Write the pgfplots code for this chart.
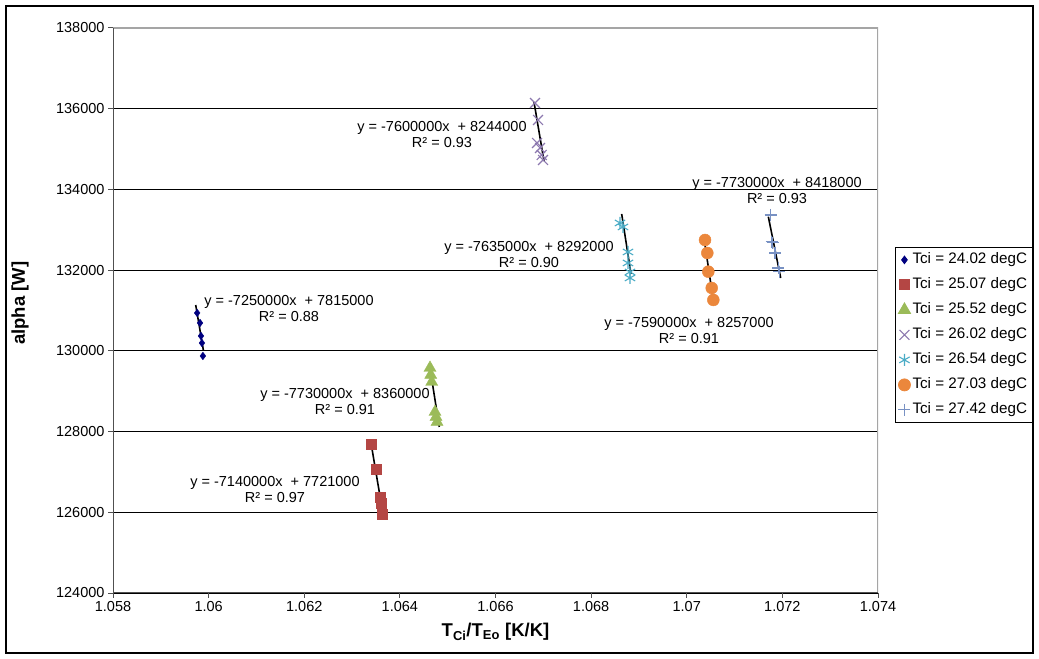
\documentclass[border=0pt]{standalone}
\usepackage{fontspec}
\setmainfont{Liberation Sans}
\usepackage{pgfplots}
\pgfplotsset{compat=1.18}

\definecolor{sNavy}{RGB}{0,0,128}
\definecolor{sRed}{RGB}{180,70,68}
\definecolor{sGreen}{RGB}{155,187,89}
\definecolor{sPurple}{RGB}{140,120,175}
\definecolor{sAqua}{RGB}{75,172,198}
\definecolor{sOrange}{RGB}{235,135,60}
\definecolor{sSteel}{RGB}{120,145,195}
\definecolor{axisDark}{RGB}{80,80,80}
\definecolor{frameGray}{RGB}{165,165,165}

\newcommand{\lblfont}{\fontsize{14.5bp}{16bp}\selectfont}
\newcommand{\legfont}{\fontsize{15.2bp}{17bp}\selectfont}
\newcommand{\titlefont}{\fontsize{18.5bp}{20bp}\selectfont}

\pgfplotsset{
  mk/.style={only marks,
    legend image code/.code={\draw[mark repeat=2,mark phase=2,##1] plot coordinates {(0cm,0cm) (0.12cm,0cm) (0.24cm,0cm)};}},
  trend/.style={black, line width=1.6bp, no marks, forget plot},
}

\begin{document}
\begin{tikzpicture}
\useasboundingbox (0,0) rectangle (1039bp,659bp);
\draw[black, line width=2.5bp] (6bp,6bp) rectangle (1033bp,653bp);
\begin{axis}[
  at={(113bp,66bp)}, anchor=south west,
  scale only axis, width=765bp, height=565bp,
  xmin=1.058, xmax=1.074, ymin=124000, ymax=138000,
  xtick distance=0.002, ytick distance=2000,
  scaled x ticks=false, scaled y ticks=false,
  x tick label style={/pgf/number format/.cd, fixed, precision=3},
  y tick label style={/pgf/number format/.cd, fixed, 1000 sep={}},
  /pgf/number format/assume math mode=true,
  tick label style={font=\lblfont, black},
  tick align=outside, major tick length=5bp,
  xtick pos=left, ytick pos=left,
  tick style={axisDark, line width=1bp},
  axis line style={draw=none},
  ymajorgrids, grid style={black, line width=0.8bp},
  xlabel={\textbf{T\textsubscript{Ci}/T\textsubscript{Eo} [K/K]}},
  ylabel={\textbf{alpha [W]}},
  label style={font=\titlefont},
  xlabel style={at={(axis description cs:0.5,-0.069)}, anchor=center},
  ylabel style={at={(axis description cs:-0.1216,0.513)}, anchor=center},
  legend style={at={(axis description cs:1.0222,0.6124)}, anchor=north west,
    draw=black, line width=0.8bp, fill=white, font=\legfont,
    inner xsep=3bp, inner ysep=0bp, row sep=0bp,
    nodes={inner xsep=2bp, inner ysep=5.6bp, text height=10.8bp, text depth=3bp}},
  legend cell align=left,
]
% measured points, one series per inlet temperature
\addplot[mk, mark=diamond*, mark size=3.8bp, mark options={draw=sNavy, fill=sNavy}]
  coordinates {(1.05976,130939) (1.05982,130691) (1.05984,130369) (1.05986,130195) (1.05988,129873)};
\addlegendentry{Tci = 24.02 degC}
\addplot[mk, mark=square*, mark size=5bp, mark options={draw=sRed, fill=sRed}]
  coordinates {(1.063396,127692) (1.063501,127073) (1.063584,126379) (1.063605,126230) (1.063626,125958)};
\addlegendentry{Tci = 25.07 degC}
\addplot[mk, mark=triangle*, mark size=7bp, mark options={draw=sGreen, fill=sGreen}]
  coordinates {(1.064630,129576) (1.064645,129403) (1.064666,129229) (1.064735,128485) (1.064756,128361) (1.064777,128237)};
\addlegendentry{Tci = 25.52 degC}
\addplot[mk, mark=x, mark size=7bp, mark options={draw=sPurple, line width=1.1bp}]
  coordinates {(1.066826,136142) (1.066889,135721) (1.066868,135151) (1.066931,135027) (1.066966,134854) (1.066994,134730)};
\addlegendentry{Tci = 26.02 degC}
\addplot[mk, mark=asterisk, mark size=6bp, mark options={draw=sAqua, line width=1.1bp}]
  coordinates {(1.068604,133169) (1.068667,133070) (1.068771,132450) (1.068771,132178) (1.068813,131955) (1.068813,131806)};
\addlegendentry{Tci = 26.54 degC}
\addplot[mk, mark=*, mark size=6bp, mark options={draw=sOrange, fill=sOrange}]
  coordinates {(1.070382,132747) (1.070430,132425) (1.070451,131962) (1.070522,131558) (1.070556,131261)};
\addlegendentry{Tci = 27.03 degC}
\addplot[mk, mark=+, mark size=6bp, mark options={draw=sSteel, line width=1.1bp}]
  coordinates {(1.071756,133367) (1.071777,132706) (1.071798,132682) (1.071846,132425) (1.071915,132054) (1.071936,131962)};
\addlegendentry{Tci = 27.42 degC}

% linear trendlines
\addplot[trend] coordinates {(1.059730,131137) (1.059889,130022)};
\addplot[trend] coordinates {(1.063396,127717) (1.063633,126057)};
\addplot[trend] coordinates {(1.064630,129576) (1.064824,128114)};
\addplot[trend] coordinates {(1.066805,136167) (1.067014,134705)};
\addplot[trend] coordinates {(1.068639,133392) (1.068834,131905)};
\addplot[trend] coordinates {(1.070382,132623) (1.070570,131137)};
\addplot[trend] coordinates {(1.071706,133325) (1.071965,131806)};

% trendline equations
\begin{scope}[every node/.style={font=\lblfont, align=center, inner sep=0pt}]
\node at (axis cs:1.061681,131038) {y = -7250000x\ \ + 7815000\\R² = 0.88};
\node at (axis cs:1.061388,126552) {y = -7140000x\ \ + 7721000\\R² = 0.97};
\node at (axis cs:1.062852,128733) {y = -7730000x\ \ + 8360000\\R² = 0.91};
\node at (axis cs:1.064881,135349) {y = -7600000x\ \ + 8244000\\R² = 0.93};
\node at (axis cs:1.066701,132376) {y = -7635000x\ \ + 8292000\\R² = 0.90};
\node at (axis cs:1.070047,130505) {y = -7590000x\ \ + 8257000\\R² = 0.91};
\node at (axis cs:1.071888,133962) {y = -7730000x\ \ + 8418000\\R² = 0.93};
\end{scope}

% plot area border: light on top and right, dark axes on left and bottom
\draw[frameGray, line width=1.2bp] (rel axis cs:0,1) -- (rel axis cs:1,1) -- (rel axis cs:1,0);
\draw[axisDark, line width=1.5bp] (rel axis cs:0,1) -- (rel axis cs:0,0) -- (rel axis cs:1,0);
\end{axis}
\end{tikzpicture}
\end{document}
